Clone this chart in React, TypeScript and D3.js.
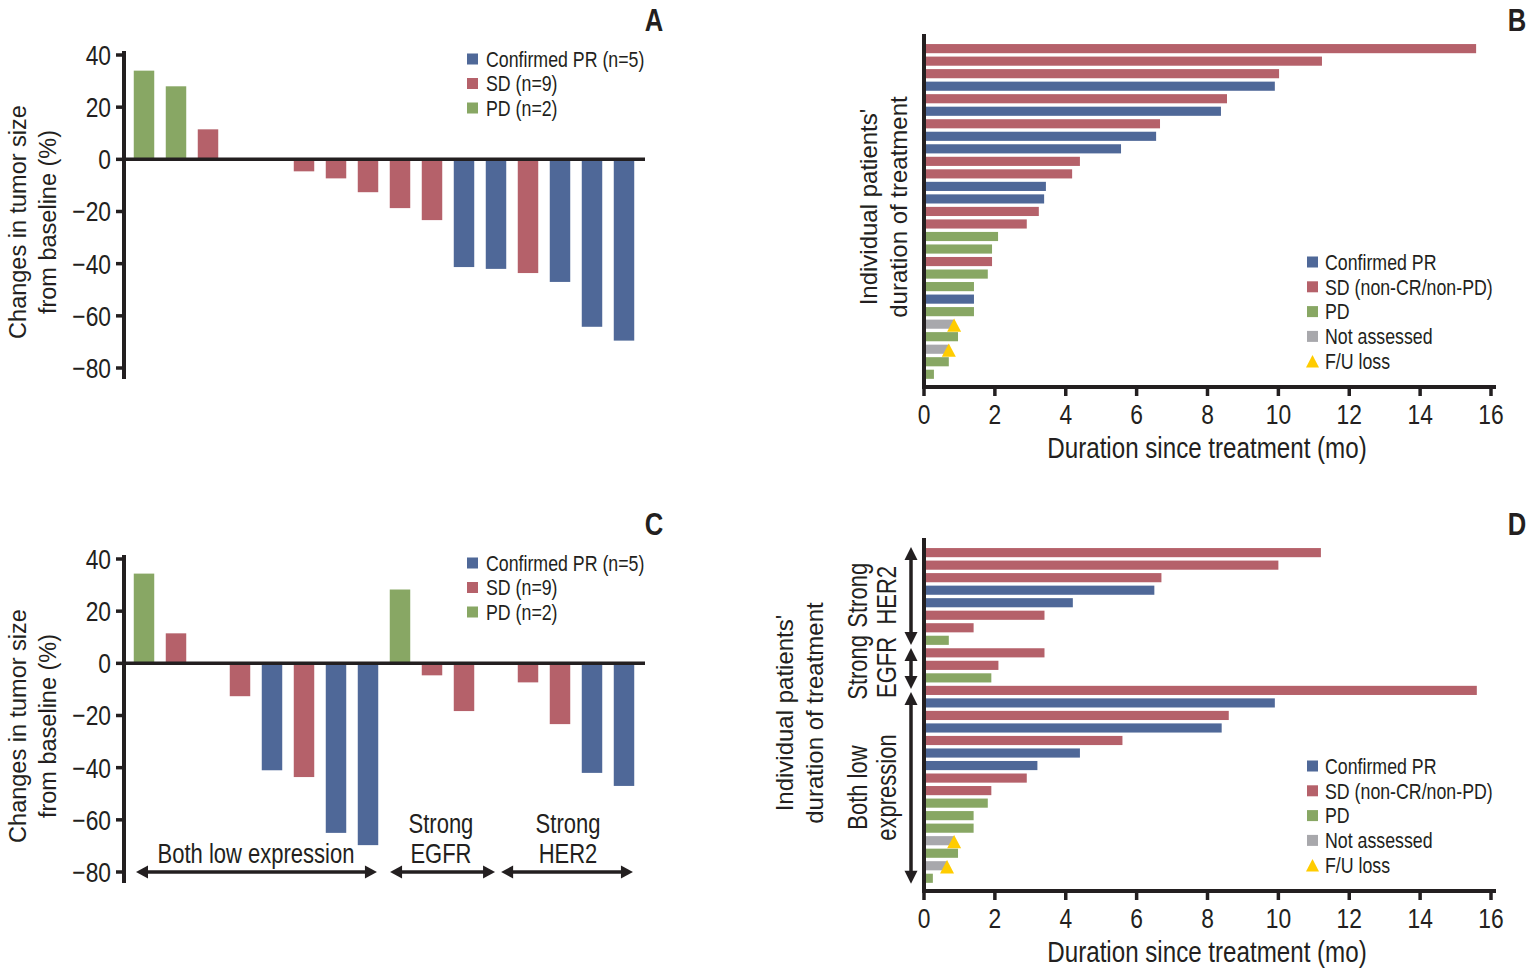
import React from "react";
import * as d3 from "d3";

// ---------- DATA ----------
const waterfallTicks = [40, 20, 0, -20, -40, -60, -80];
const durationTicks = [0, 2, 4, 6, 8, 10, 12, 14, 16];

// Panel A: best change in tumour size (%) ordered
const aValues = [34, 28, 11.5, 0, 0, -4.6, -7.3, -12.6, -18.7, -23.3, -41.3, -42, -43.6, -47, -64.2, -69.5];
const aStatus = ["PD", "PD", "SD", "SD", "SD", "SD", "SD", "SD", "SD", "SD", "PR", "PR", "SD", "PR", "PR", "PR"];

// Panel C: grouped by expression
const cValues = [34.4, 11.5, 0, -12.6, -41, -43.6, -65, -69.7, 28.3, -4.6, -18.3, 0, -7.3, -23.3, -42, -47];
const cStatus = ["PD", "SD", "SD", "SD", "PR", "SD", "PR", "PR", "PD", "SD", "SD", "SD", "SD", "SD", "PR", "PR"];
const cGroups = [
  { label: ["Both low expression"], from: -0.25, to: 7.28, labelAt: 3.5 },
  { label: ["Strong", "EGFR"], from: 7.69, to: 10.97, labelAt: 9.28 },
  { label: ["Strong", "HER2"], from: 11.16, to: 15.28, labelAt: 13.25 },
];

// Panel B: duration of treatment (months)
const bValues = [15.58, 11.23, 10.02, 9.9, 8.55, 8.38, 6.66, 6.55, 5.56, 4.4, 4.18, 3.44, 3.39, 3.24, 2.9, 2.09, 1.92, 1.92, 1.8, 1.41, 1.41, 1.41, 0.85, 0.96, 0.7, 0.7, 0.28];
const bStatus = ["SD", "SD", "SD", "PR", "SD", "PR", "SD", "PR", "PR", "SD", "SD", "PR", "PR", "SD", "SD", "PD", "PD", "SD", "PD", "PD", "PR", "PD", "NA", "PD", "NA", "PD", "PD"];
const bLoss = [22, 24];

// Panel D: grouped by expression
const dValues = [11.2, 10.0, 6.7, 6.5, 4.2, 3.4, 1.4, 0.7, 3.4, 2.1, 1.9, 15.6, 9.9, 8.6, 8.4, 5.6, 4.4, 3.2, 2.9, 1.9, 1.8, 1.4, 1.4, 0.85, 0.96, 0.65, 0.25];
const dStatus = ["SD", "SD", "SD", "PR", "PR", "SD", "SD", "PD", "SD", "SD", "PD", "SD", "PR", "SD", "PR", "SD", "PR", "PR", "SD", "SD", "PD", "PD", "PD", "NA", "PD", "NA", "PD"];
const dLoss = [23, 25];
const dGroups = [
  { label: ["Strong", "HER2"], from: -0.32, to: 7.43, labelAt: 3.5 },
  { label: ["Strong", "EGFR"], from: 7.67, to: 10.9, labelAt: 9.2 },
  { label: ["Both low", "expression"], from: 11.15, to: 26.3, labelAt: 18.7 },
];

const waterLegend = [
  { key: "PR", text: "Confirmed PR (n=5)" },
  { key: "SD", text: "SD (n=9)" },
  { key: "PD", text: "PD (n=2)" },
];
const durLegend = [
  { key: "PR", text: "Confirmed PR" },
  { key: "SD", text: "SD (non-CR/non-PD)" },
  { key: "PD", text: "PD" },
  { key: "NA", text: "Not assessed" },
  { key: "LOSS", text: "F/U loss" },
];

// ---------- STYLE ----------
const COLORS: Record<string, string> = {
  PR: "#4f6898",
  SD: "#b5616a",
  PD: "#88a764",
  NA: "#a8a8ac",
  LOSS: "#ffcc00",
};
const INK = "#231f20";
const SANS = "'Liberation Sans', Arial, Helvetica, sans-serif";
const SQUEEZE = 0.8;

function NText({
  x, y, size, anchor = "start", rotate = 0, weight = "normal", children,
}: {
  x: number; y: number; size: number; anchor?: string; rotate?: number; weight?: string; children: React.ReactNode;
}) {
  return (
    <text
      transform={`translate(${x},${y}) rotate(${rotate}) scale(${SQUEEZE},1)`}
      textAnchor={anchor}
      dominantBaseline="central"
      fontFamily={SANS}
      fontSize={size}
      fontWeight={weight}
      fill={INK}
    >
      {children}
    </text>
  );
}

function Triangle({ cx, cy, size }: { cx: number; cy: number; size: number }) {
  const h = size * 0.95;
  const p = `M${cx},${cy - h / 2} L${cx + size / 2},${cy + h / 2} L${cx - size / 2},${cy + h / 2} Z`;
  return <path d={p} fill={COLORS.LOSS} />;
}

function HArrow({ x1, x2, y }: { x1: number; x2: number; y: number }) {
  const hl = 12, hw = 6.5;
  return (
    <g>
      <line x1={x1 + hl - 2} x2={x2 - hl + 2} y1={y} y2={y} stroke={INK} strokeWidth={3.5} />
      <path d={`M${x1},${y} L${x1 + hl},${y - hw} L${x1 + hl},${y + hw} Z`} fill={INK} />
      <path d={`M${x2},${y} L${x2 - hl},${y - hw} L${x2 - hl},${y + hw} Z`} fill={INK} />
    </g>
  );
}

function VArrow({ y1, y2, x }: { y1: number; y2: number; x: number }) {
  const hl = 13, hw = 6.5;
  return (
    <g>
      <line y1={y1 + hl - 2} y2={y2 - hl + 2} x1={x} x2={x} stroke={INK} strokeWidth={3.5} />
      <path d={`M${x},${y1} L${x - hw},${y1 + hl} L${x + hw},${y1 + hl} Z`} fill={INK} />
      <path d={`M${x},${y2} L${x - hw},${y2 - hl} L${x + hw},${y2 - hl} Z`} fill={INK} />
    </g>
  );
}

function Waterfall({
  top, values, status, letter, groups,
}: {
  top: number; values: number[]; status: string[]; letter: string;
  groups?: { label: string[]; from: number; to: number; labelAt: number }[];
}) {
  const axisX = 124;
  const y = d3.scaleLinear().domain([-80, 40]).range([top + 313, top]);
  const x = d3.scaleBand<number>().domain(values.map((_, i) => i)).range([128, 640]).paddingInner(0.36).paddingOuter(0.18);
  const step = x.step();
  const centerAt = (u: number) => (x(0) as number) + x.bandwidth() / 2 + u * step;
  return (
    <g>
      <NText x={654} y={top - 35} size={32} anchor="middle" weight="bold">{letter}</NText>
      {values.map((v, i) => (
        v === 0 ? null :
        <rect key={i} x={x(i)} width={x.bandwidth()} y={Math.min(y(v), y(0))} height={Math.abs(y(v) - y(0))} fill={COLORS[status[i]]} />
      ))}
      <line x1={axisX} x2={axisX} y1={top - 4} y2={top + 324} stroke={INK} strokeWidth={4} />
      <line x1={axisX - 2} x2={645} y1={y(0)} y2={y(0)} stroke={INK} strokeWidth={3.5} />
      {waterfallTicks.map((t) => (
        <g key={t}>
          <line x1={axisX - 8} x2={axisX} y1={y(t)} y2={y(t)} stroke={INK} strokeWidth={3.5} />
          <NText x={axisX - 13} y={y(t)} size={28.5} anchor="end">
            {t < 0 ? "\u2212" + Math.abs(t) : String(t)}
          </NText>
        </g>
      ))}
      <text transform={`translate(18,${top + 167}) rotate(-90)`} textAnchor="middle" dominantBaseline="central" fontFamily={SANS} fontSize={23.5} fill={INK}>Changes in tumor size</text>
      <text transform={`translate(48,${top + 167}) rotate(-90)`} textAnchor="middle" dominantBaseline="central" fontFamily={SANS} fontSize={23.5} fill={INK}>from baseline (%)</text>
      {waterLegend.map((l, i) => (
        <g key={l.key}>
          <rect x={467} y={top + 4 + i * 24.5 - 5.5} width={11} height={11} fill={COLORS[l.key]} />
          <NText x={486} y={top + 4 + i * 24.5} size={22.2}>{l.text}</NText>
        </g>
      ))}
      {groups && groups.map((g, gi) => (
        <g key={gi}>
          <HArrow x1={centerAt(g.from)} x2={centerAt(g.to)} y={top + 313} />
          {g.label.map((s, li) => (
            <NText key={li} x={centerAt(g.labelAt)} y={top + 294 - (g.label.length - 1 - li) * 30} size={27.5} anchor="middle">{s}</NText>
          ))}
        </g>
      ))}
    </g>
  );
}

function Duration({
  top, values, status, loss, letter, groups,
}: {
  top: number; values: number[]; status: string[]; loss: number[]; letter: string;
  groups?: { label: string[]; from: number; to: number; labelAt: number }[];
}) {
  // top = y of first bar center
  const axisX = 924;
  const axisY = top + 340;
  const x = d3.scaleLinear().domain([0, 16]).range([924, 1491]);
  const step = 12.65;
  const y = d3.scaleBand<number>().domain(values.map((_, i) => i)).range([top - step / 2, top - step / 2 + step * values.length]).padding(0.27);
  const rowAt = (u: number) => top + u * step;
  const titleX = groups ? 784 : 868;
  const titleC = groups ? top + 162 : top + 160;
  return (
    <g>
      <NText x={1517} y={top - 27} size={32} anchor="middle" weight="bold">{letter}</NText>
      {values.map((v, i) => (
        <rect key={i} x={x(0)} y={y(i)} width={x(v) - x(0)} height={y.bandwidth()} fill={COLORS[status[i]]} />
      ))}
      {loss.map((i) => (
        <Triangle key={i} cx={x(values[i])} cy={(y(i) as number) + y.bandwidth() / 2 + 1} size={14} />
      ))}
      <line x1={axisX} x2={axisX} y1={top - 13} y2={axisY + 2} stroke={INK} strokeWidth={4} />
      <line x1={axisX - 2} x2={1496} y1={axisY} y2={axisY} stroke={INK} strokeWidth={4} />
      {durationTicks.map((t) => (
        <g key={t}>
          <line x1={x(t)} x2={x(t)} y1={axisY} y2={axisY + 9} stroke={INK} strokeWidth={3.5} />
          <NText x={x(t)} y={axisY + 27} size={28.5} anchor="middle">{String(t)}</NText>
        </g>
      ))}
      <NText x={1207} y={axisY + 61} size={30.2} anchor="middle">Duration since treatment (mo)</NText>
      <text transform={`translate(${titleX},${titleC}) rotate(-90)`} textAnchor="middle" dominantBaseline="central" fontFamily={SANS} fontSize={24} fill={INK}>Individual patients'</text>
      <text transform={`translate(${titleX + 30},${titleC}) rotate(-90)`} textAnchor="middle" dominantBaseline="central" fontFamily={SANS} fontSize={24} fill={INK}>duration of treatment</text>
      {durLegend.map((l, i) => (
        <g key={l.key}>
          {l.key === "LOSS" ? (
            <Triangle cx={1312.5} cy={top + 215 + i * 24.8} size={13} />
          ) : (
            <rect x={1307} y={top + 215 + i * 24.8 - 5.5} width={11} height={11} fill={COLORS[l.key]} />
          )}
          <NText x={1325} y={top + 215 + i * 24.8} size={22.2}>{l.text}</NText>
        </g>
      ))}
      {groups && groups.map((g, gi) => (
        <g key={gi}>
          <VArrow x={911} y1={rowAt(g.from)} y2={rowAt(g.to)} />
          {g.label.map((s, li) => (
            <NText key={li} x={857 + li * 29} y={rowAt(g.labelAt)} size={27.5} anchor="middle" rotate={-90}>{s}</NText>
          ))}
        </g>
      ))}
    </g>
  );
}

export default function App() {
  return (
    <svg width={1532} height={971} viewBox="0 0 1532 971" style={{ position: "absolute", left: 0, top: 0, background: "#fff" }}>
      <rect width={1532} height={971} fill="#fff" />
      <Waterfall top={55} values={aValues} status={aStatus} letter="A" />
      <Duration top={47} values={bValues} status={bStatus} loss={bLoss} letter="B" />
      <Waterfall top={559} values={cValues} status={cStatus} letter="C" groups={cGroups} />
      <Duration top={551} values={dValues} status={dStatus} loss={dLoss} letter="D" groups={dGroups} />
    </svg>
  );
}
